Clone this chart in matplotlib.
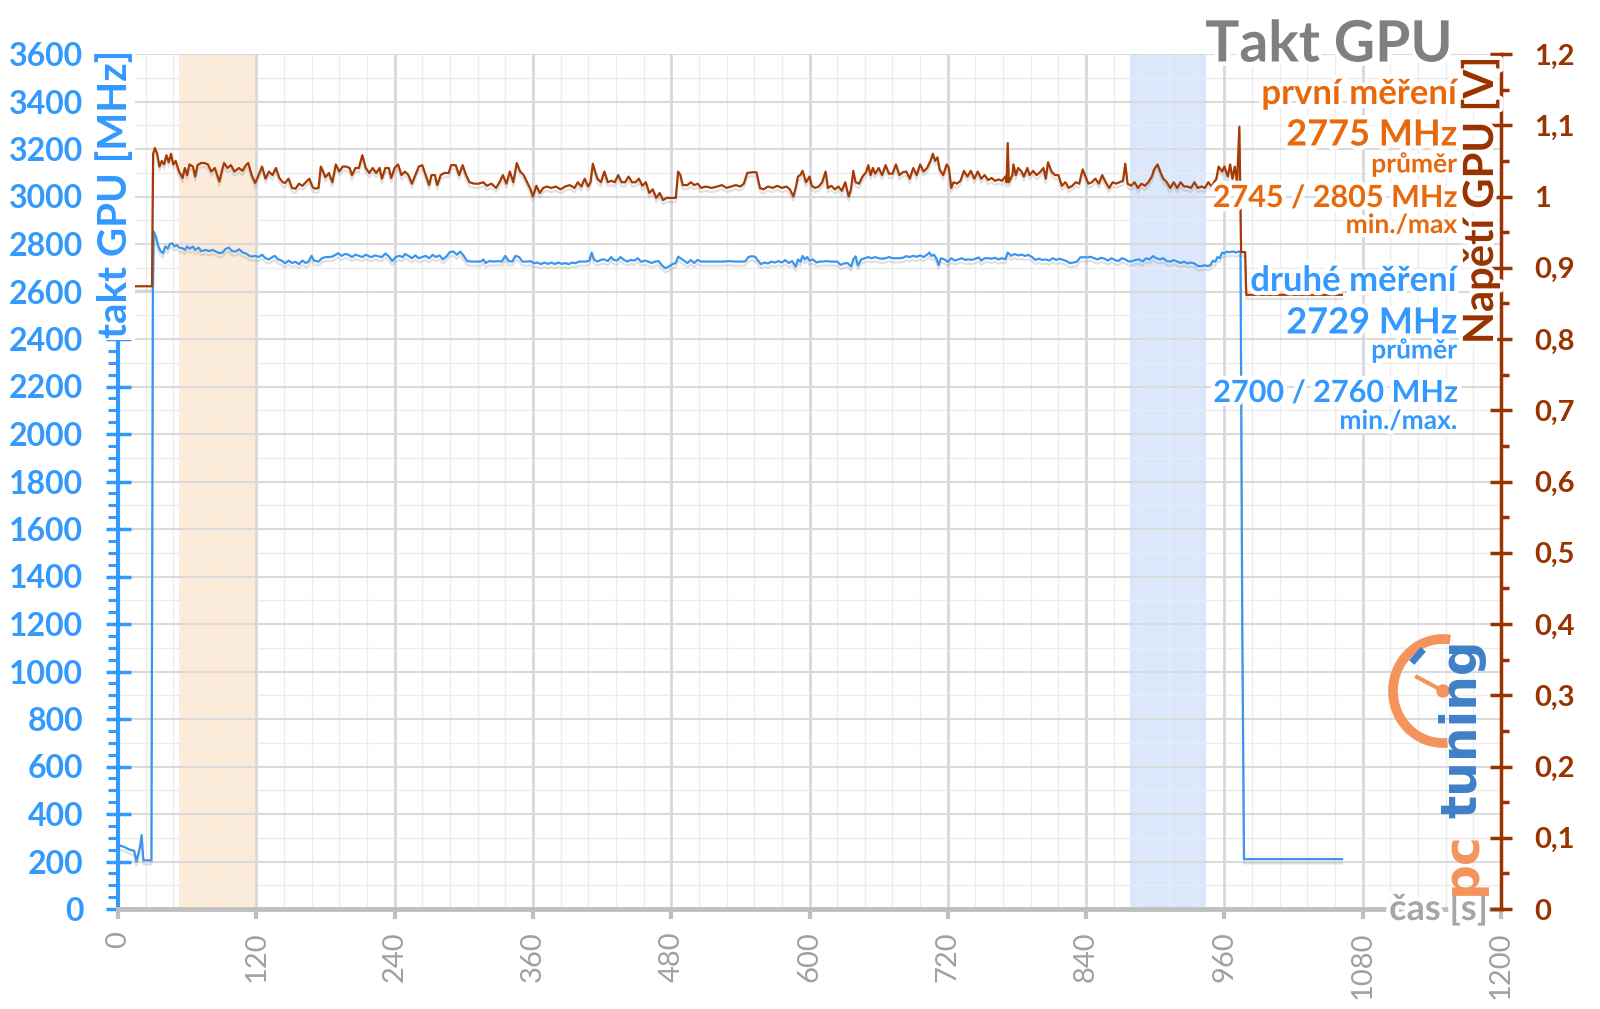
import numpy as np
import matplotlib.pyplot as plt
import matplotlib.patheffects as pe
from matplotlib.ticker import MultipleLocator
from matplotlib.patches import Arc, Circle
from matplotlib.lines import Line2D
from matplotlib.transforms import IdentityTransform

plt.rcParams['font.family'] = ['Lato', 'DejaVu Sans']

# GPU clock (MHz)
clk_t = [0, 5, 10, 14, 16, 19, 20.5, 22, 29, 30.3, 31, 33, 35, 37, 39, 41, 43, 45, 47, 49, 51, 53, 56, 58, 60, 62,
         65, 67, 70, 72, 76, 79, 82, 85, 88, 91, 93, 96, 99, 102, 105, 108, 111, 114, 116, 119, 122, 125, 128, 131,
         134, 136, 139, 142, 145, 148, 151, 154, 157, 160, 163, 165, 168, 170, 172, 174, 177, 180, 183, 186, 189,
         191, 194, 197, 200, 203, 206, 209, 212, 215, 218, 220, 223, 226, 229, 232, 235, 238, 241, 244, 247, 249,
         252, 255, 258, 261, 264, 267, 270, 273, 276, 279, 282, 285, 288, 291, 294, 297, 300, 303, 307, 311, 315,
         317, 319, 322, 326, 330, 333, 336, 339, 342, 345, 348, 351, 355, 358, 361, 364, 367, 370, 373, 376, 379,
         382, 385, 388, 391, 394, 397, 400, 403, 406, 409, 411, 413, 416, 419, 422, 425, 428, 430, 433, 436, 439,
         442, 445, 448, 451, 454, 457, 460, 463, 466, 469, 472, 475, 478, 481, 484, 486, 488, 491, 494, 497, 500,
         503, 506, 510, 515, 520, 525, 530, 535, 540, 544, 547, 550, 553, 556, 558, 561, 564, 567, 570, 573, 576,
         579, 582, 585, 588, 590, 592, 594, 596, 598, 600, 603, 606, 609, 612, 615, 618, 621, 624, 627, 630, 633,
         636, 638, 640, 642, 645, 648, 651, 654, 657, 660, 663, 666, 669, 672, 675, 678, 681, 684, 687, 690, 693,
         696, 699, 702, 704, 706, 708, 710, 712, 714, 717, 720, 723, 726, 729, 732, 735, 738, 741, 744, 747, 749,
         752, 755, 758, 761, 764, 767, 770, 772, 775, 778, 781, 784, 787, 790, 793, 796, 799, 802, 805, 808, 811,
         814, 817, 820, 823, 826, 829, 832, 835, 838, 841, 844, 847, 850, 853, 856, 859, 862, 865, 868, 871, 874,
         877, 880, 883, 886, 889, 892, 895, 898, 901, 904, 907, 910, 913, 916, 919, 922, 925, 928, 931, 934, 937,
         940, 943, 946, 948, 950, 952, 954, 956, 958, 960, 962, 964, 966, 968, 970, 972, 974, 975.5, 977, 1062]
clk_mhz = [270, 262, 250, 245, 200, 260, 311, 205, 205, 2600, 2852, 2830, 2790, 2770, 2761, 2790, 2780, 2800, 2803,
           2790, 2795, 2785, 2782, 2775, 2790, 2780, 2789, 2775, 2785, 2770, 2775, 2770, 2775, 2768, 2761, 2765,
           2778, 2785, 2770, 2768, 2778, 2765, 2760, 2750, 2747, 2750, 2745, 2755, 2740, 2735, 2745, 2750, 2735,
           2730, 2719, 2730, 2720, 2725, 2715, 2730, 2720, 2725, 2750, 2730, 2728, 2726, 2740, 2745, 2745, 2747,
           2755, 2761, 2750, 2758, 2755, 2745, 2755, 2750, 2745, 2755, 2748, 2745, 2752, 2748, 2745, 2760, 2748,
           2728, 2745, 2750, 2745, 2758, 2750, 2740, 2752, 2740, 2745, 2750, 2740, 2754, 2745, 2752, 2735, 2748,
           2766, 2768, 2755, 2768, 2750, 2728, 2726, 2726, 2726, 2735, 2720, 2728, 2726, 2728, 2726, 2750, 2728,
           2726, 2750, 2745, 2726, 2726, 2728, 2719, 2722, 2715, 2722, 2716, 2722, 2715, 2722, 2716, 2720, 2715,
           2722, 2719, 2726, 2726, 2726, 2730, 2764, 2735, 2726, 2733, 2735, 2728, 2745, 2733, 2730, 2745, 2733,
           2726, 2733, 2730, 2740, 2725, 2730, 2726, 2720, 2726, 2728, 2710, 2698, 2705, 2715, 2720, 2747, 2740,
           2730, 2720, 2732, 2720, 2733, 2726, 2726, 2726, 2726, 2726, 2728, 2726, 2726, 2726, 2745, 2749, 2745,
           2726, 2715, 2722, 2718, 2726, 2722, 2728, 2722, 2732, 2720, 2728, 2705, 2735, 2725, 2750, 2735, 2745,
           2730, 2735, 2722, 2726, 2726, 2728, 2726, 2726, 2726, 2712, 2718, 2720, 2705, 2735, 2748, 2710, 2735,
           2740, 2745, 2740, 2745, 2740, 2738, 2740, 2745, 2740, 2740, 2740, 2742, 2749, 2745, 2750, 2746, 2752,
           2745, 2755, 2764, 2750, 2755, 2740, 2712, 2740, 2735, 2725, 2740, 2730, 2735, 2740, 2733, 2735, 2733,
           2738, 2743, 2730, 2740, 2740, 2738, 2742, 2735, 2740, 2736, 2764, 2750, 2758, 2752, 2755, 2750, 2754,
           2745, 2733, 2738, 2733, 2735, 2730, 2740, 2733, 2738, 2733, 2728, 2719, 2722, 2725, 2744, 2744, 2744,
           2746, 2740, 2735, 2742, 2738, 2730, 2740, 2733, 2728, 2740, 2735, 2726, 2728, 2733, 2735, 2726, 2740,
           2735, 2749, 2740, 2735, 2740, 2728, 2726, 2732, 2726, 2720, 2726, 2718, 2722, 2718, 2707, 2707, 2710,
           2707, 2712, 2730, 2725, 2745, 2740, 2764, 2760, 2768, 2765, 2768, 2768, 2764, 2768, 2768, 1200, 210, 210]

# GPU voltage (V)
volt_t = [0, 29.5, 30.5, 32, 34, 36, 38, 40, 42, 44, 46, 48, 50, 53, 56, 58, 60, 62, 65, 67, 69, 72, 75, 78, 81, 84,
          88, 90, 92, 95, 98, 101, 105, 108, 111, 113, 116, 119, 122, 125, 128, 131, 134, 137, 140, 143, 145, 148,
          151, 154, 157, 160, 163, 166, 169, 171, 174, 176, 178, 180, 183, 186, 189, 192, 195, 198, 201, 203, 206,
          209, 212, 215, 218, 221, 224, 227, 229, 232, 235, 237, 240, 243, 246, 249, 252, 255, 258, 261, 264, 267,
          270, 272, 275, 277, 280, 283, 287, 289, 293, 296, 299, 302, 305, 309, 313, 317, 320, 324, 328, 331, 334,
          337, 340, 343, 346, 349, 352, 355, 358, 360, 363, 366, 369, 372, 376, 380, 384, 388, 392, 396, 399, 402,
          405, 408, 410, 412, 414, 416, 419, 422, 425, 428, 431, 434, 437, 440, 443, 446, 449, 452, 455, 458, 461,
          464, 467, 470, 473, 476, 479, 482, 484, 486, 488, 490, 494, 497, 500, 503, 506, 510, 515, 520, 524, 528,
          532, 536, 540, 543, 546, 550, 554, 557, 560, 564, 568, 572, 576, 580, 583, 586, 588, 590, 592, 594, 597,
          600, 602, 605, 608, 611, 614, 616, 619, 622, 625, 628, 631, 634, 636, 638, 640, 643, 646, 649, 651, 653,
          655, 657, 660, 663, 666, 669, 672, 675, 678, 681, 684, 687, 690, 693, 696, 699, 702, 705, 707, 709, 711,
          713, 716, 719, 721, 723, 725, 728, 731, 734, 737, 740, 743, 746, 749, 752, 755, 758, 761, 764, 767, 770,
          771, 772, 773, 776, 777, 779, 781, 784, 786, 789, 791, 794, 797, 800, 803, 805, 807, 810, 813, 816, 819,
          822, 825, 828, 831, 834, 837, 839, 842, 845, 848, 851, 854, 857, 860, 863, 866, 869, 872, 874, 876, 879,
          882, 885, 888, 891, 894, 897, 899, 902, 905, 907, 910, 913, 916, 919, 922, 925, 928, 931, 934, 937, 940,
          943, 946, 949, 951, 953, 955, 958, 960, 963, 965, 967, 969, 971, 973, 974.5, 978, 979, 1062]
volt_v = [0.874, 0.874, 1.06, 1.068, 1.06, 1.042, 1.05, 1.045, 1.058, 1.048, 1.06, 1.045, 1.05, 1.035, 1.026, 1.04,
          1.03, 1.045, 1.042, 1.028, 1.044, 1.047, 1.047, 1.045, 1.035, 1.04, 1.021, 1.035, 1.047, 1.04, 1.044,
          1.035, 1.04, 1.036, 1.044, 1.047, 1.03, 1.019, 1.03, 1.042, 1.025, 1.035, 1.03, 1.04, 1.026, 1.02, 1.019,
          1.025, 1.012, 1.011, 1.018, 1.015, 1.02, 1.025, 1.013, 1.011, 1.012, 1.042, 1.035, 1.027, 1.033, 1.02,
          1.045, 1.035, 1.042, 1.042, 1.04, 1.03, 1.04, 1.04, 1.058, 1.04, 1.033, 1.04, 1.033, 1.04, 1.025, 1.04,
          1.04, 1.026, 1.04, 1.045, 1.03, 1.035, 1.03, 1.018, 1.03, 1.042, 1.044, 1.03, 1.016, 1.03, 1.03, 1.016,
          1.03, 1.033, 1.033, 1.044, 1.044, 1.03, 1.044, 1.03, 1.02, 1.018, 1.018, 1.02, 1.015, 1.018, 1.012, 1.02,
          1.03, 1.018, 1.035, 1.02, 1.047, 1.035, 1.03, 1.02, 1.01, 1.0, 1.015, 1.005, 1.012, 1.014, 1.012, 1.014,
          1.01, 1.014, 1.016, 1.012, 1.02, 1.014, 1.025, 1.014, 1.02, 1.046, 1.035, 1.025, 1.02, 1.035, 1.02, 1.022,
          1.02, 1.03, 1.02, 1.02, 1.028, 1.02, 1.02, 1.025, 1.015, 1.02, 1.005, 1.01, 0.998, 1.005, 0.995, 0.998,
          0.998, 0.998, 0.998, 1.035, 1.03, 1.016, 1.016, 1.02, 1.016, 1.018, 1.012, 1.014, 1.012, 1.014, 1.016,
          1.012, 1.014, 1.016, 1.014, 1.018, 1.033, 1.034, 1.034, 1.012, 1.01, 1.014, 1.012, 1.015, 1.012, 1.014,
          1.01, 1.0, 1.012, 1.028, 1.03, 1.036, 1.02, 1.028, 1.015, 1.012, 1.014, 1.02, 1.035, 1.012, 1.015, 1.01,
          1.014, 1.008, 1.02, 1.0, 1.01, 1.036, 1.02, 1.018, 1.028, 1.034, 1.044, 1.03, 1.04, 1.032, 1.04, 1.03,
          1.044, 1.032, 1.032, 1.045, 1.03, 1.034, 1.035, 1.025, 1.04, 1.03, 1.045, 1.035, 1.04, 1.05, 1.06, 1.05,
          1.055, 1.038, 1.03, 1.045, 1.04, 1.012, 1.02, 1.018, 1.022, 1.036, 1.028, 1.036, 1.025, 1.035, 1.025,
          1.03, 1.023, 1.026, 1.022, 1.024, 1.022, 1.028, 1.02, 1.075, 1.02, 1.03, 1.045, 1.03, 1.04, 1.035, 1.028,
          1.04, 1.03, 1.036, 1.03, 1.034, 1.04, 1.025, 1.048, 1.035, 1.03, 1.03, 1.015, 1.02, 1.012, 1.015, 1.02,
          1.018, 1.038, 1.03, 1.018, 1.02, 1.025, 1.018, 1.03, 1.02, 1.012, 1.02, 1.018, 1.02, 1.022, 1.046, 1.018,
          1.015, 1.02, 1.012, 1.018, 1.015, 1.02, 1.028, 1.038, 1.045, 1.032, 1.025, 1.02, 1.012, 1.02, 1.012,
          1.02, 1.014, 1.014, 1.012, 1.02, 1.012, 1.014, 1.012, 1.02, 1.014, 1.02, 1.025, 1.042, 1.035, 1.042,
          1.028, 1.045, 1.025, 1.042, 1.02, 1.098, 0.922, 0.922, 0.862, 0.862]

x_ticks = list(range(0, 1201, 120))
mhz_ticks = list(range(0, 3601, 200))
volt_ticks = [0, 0.1, 0.2, 0.3, 0.4, 0.5, 0.6, 0.7, 0.8, 0.9, 1.0, 1.1, 1.2]
band_first = (53, 120)
band_second = (878, 944)

title = 'Takt GPU'
notes = [('první měření', '#e8680c', 25, 94), ('2775 MHz', '#e8680c', 26, 135), ('průměr', '#e8680c', 19, 164),
         ('2745 / 2805 MHz', '#e8680c', 22, 198), ('min./max', '#e8680c', 19, 225),
         ('druhé měření', '#3399ff', 25, 281), ('2729 MHz', '#3399ff', 26, 323), ('průměr', '#3399ff', 19, 350),
         ('2700 / 2760 MHz', '#3399ff', 22, 393), ('min./max.', '#3399ff', 19, 421)]

BLUE = '#3399ff'
BLUE_LINE = '#3b95ef'
BROWN = '#993300'
BROWN_LINE = '#a63a05'
GRAY = '#bfbfbf'

W, H = 1600, 1009
fx = lambda px: px / W
fy = lambda py: 1 - py / H

fig = plt.figure(figsize=(16, 10.09), dpi=100)
ax = fig.add_axes([fx(118), fy(909), (1501 - 118) / W, (909 - 54) / H])
ax2 = ax.twinx()

ax.set_xlim(0, 1200)
ax.set_ylim(0, 3600)
ax2.set_ylim(0, 1.2)

# grid
ax.set_axisbelow(True)
ax.xaxis.set_minor_locator(MultipleLocator(24))
ax.yaxis.set_minor_locator(MultipleLocator(50))
ax.grid(True, which='major', axis='x', color='#d5d8de', lw=2, zorder=0.5)
ax.grid(True, which='minor', axis='x', color='#ececec', lw=1, zorder=0.5)
ax.grid(True, which='major', axis='y', color='#dadada', lw=1.5, zorder=0.5)
ax.hlines(np.arange(100, 3600, 200), 0, 1200, color='#ececec', lw=1, zorder=0.45)

ax.axvspan(*band_first, color='#fdebd9', lw=0, zorder=0.3)
ax.axvspan(*band_second, color='#dbe8fb', lw=0, zorder=0.3)

shadow = [pe.SimpleLineShadow(offset=(0, -3), shadow_color='#777777', alpha=0.22), pe.Normal()]
ax.plot(clk_t, clk_mhz, color=BLUE_LINE, lw=1.6, zorder=3, path_effects=shadow)
ax2.plot(volt_t, volt_v, color=BROWN_LINE, lw=1.6, zorder=3, path_effects=shadow)

# spines
for s in ['top', 'right']:
    ax.spines[s].set_visible(False)
for s in ['top', 'left', 'bottom']:
    ax2.spines[s].set_visible(False)
ax.spines['left'].set_color(BLUE)
ax.spines['left'].set_linewidth(3)
ax.spines['bottom'].set_color(GRAY)
ax.spines['bottom'].set_linewidth(3.5)
ax2.spines['right'].set_color(BROWN)
ax2.spines['right'].set_linewidth(2.5)

# ticks
ax.set_xticks(x_ticks)
ax.set_xticklabels([str(v) for v in x_ticks], rotation=90, fontsize=21, color='#a0a0a0')
ax.tick_params(axis='x', which='major', direction='out', length=7, width=3, color=GRAY, pad=9)
ax.tick_params(axis='x', which='minor', length=0)

ax.set_yticks(mhz_ticks)
ax.set_yticklabels([str(v) for v in mhz_ticks], fontsize=23, fontweight='bold', color=BLUE)
ax.tick_params(axis='y', which='major', direction='inout', length=18, width=2.5, color=BLUE, pad=16)
ax.tick_params(axis='y', which='minor', direction='out', length=7, width=2.2, color=BLUE)

ax2.set_yticks(volt_ticks)
ax2.set_yticklabels([('%g' % v).replace('.', ',') for v in volt_ticks], fontsize=21, fontweight='bold', color=BROWN)
ax2.yaxis.set_minor_locator(MultipleLocator(0.05))
ax2.tick_params(axis='y', which='major', direction='inout', length=16, width=2.5, color=BROWN, pad=16)
ax2.tick_params(axis='y', which='minor', direction='out', length=6, width=2.5, color=BROWN)

halo = [pe.withStroke(linewidth=6, foreground='white')]

# axis titles
fig.text(fx(115), fy(50), 'takt GPU [MHz]', rotation=90, ha='center', va='top', color=BLUE, fontsize=29,
         fontweight='bold', bbox=dict(fc='white', ec='none', pad=1))
fig.text(fx(1480), fy(57), 'Napětí GPU [V]', rotation=90, ha='center', va='top', color=BROWN, fontsize=30,
         fontweight='bold', path_effects=halo)
fig.text(fx(1488), fy(909), 'čas [s]', ha='right', va='center', color='#a6a6a6', fontsize=26,
         fontweight='bold', path_effects=halo)

# title and notes
fig.text(fx(1453), fy(45), title, ha='right', va='center', color='#808080', fontsize=41, fontweight='bold',
         path_effects=halo)
for txt, col, size, ypx in notes:
    fig.text(fx(1457), fy(ypx), txt, ha='right', va='center', color=col, fontsize=size, fontweight='bold',
             path_effects=halo)

# pctuning logo
LOGO_O = '#f4945c'
LOGO_B = '#3f80c8'
fig.text(fx(1476), fy(895), 'pc', rotation=90, rotation_mode='anchor', ha='left', va='baseline', color=LOGO_O,
         fontsize=35, fontweight='bold', family='DejaVu Sans')
fig.text(fx(1476), fy(818), 'tuning', rotation=90, rotation_mode='anchor', ha='left', va='baseline',
         color=LOGO_B, fontsize=35, fontweight='bold', family='DejaVu Sans')
ident = IdentityTransform()
fig.add_artist(Arc((1443, H - 691), 100, 104, theta1=82, theta2=275, transform=ident, color=LOGO_O, lw=7))
fig.add_artist(Line2D([1443, 1417], [H - 691, H - 677], transform=ident, color=LOGO_O, lw=3))
fig.add_artist(Circle((1443, H - 691), 6, transform=ident, color=LOGO_O))
fig.add_artist(Line2D([1414, 1421], [H - 660, H - 652], transform=ident, color=LOGO_B, lw=5))

fig.savefig('out.png', dpi=100)
